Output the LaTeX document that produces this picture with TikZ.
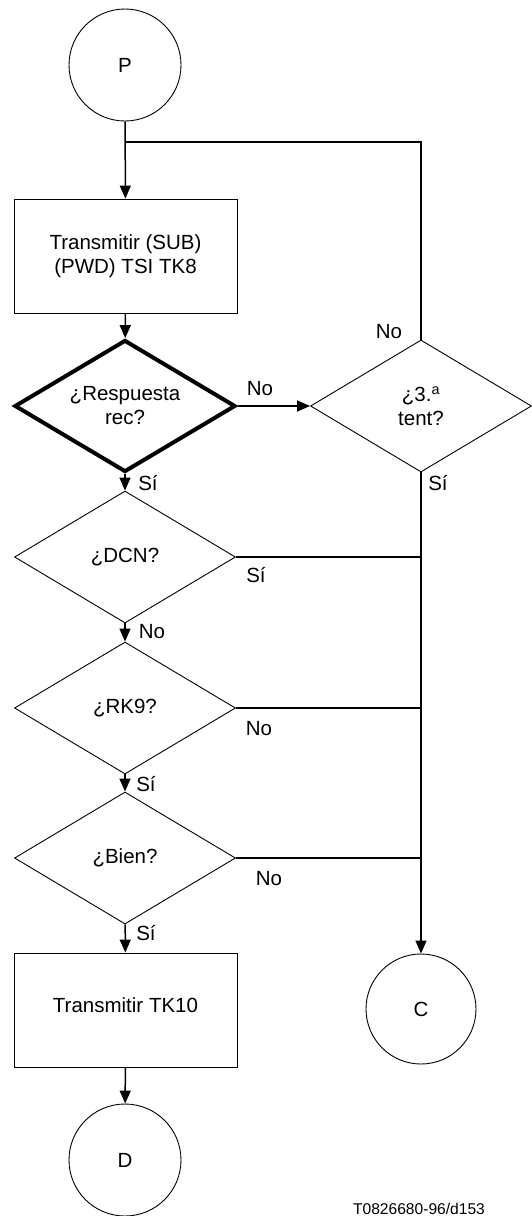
\documentclass[tikz,border=0pt]{standalone}
\usepackage{fontspec}
\setmainfont{Liberation Sans}
\usetikzlibrary{shapes.geometric,arrows.meta}
\tikzset{
  x=1pt,y=-1pt,
  every node/.style={font=\fontsize{20.5}{24}\selectfont},
  term/.style={draw,circle,line width=0.9pt,minimum size=112pt,inner sep=0pt},
  proc/.style={draw,rectangle,line width=0.9pt,minimum width=223pt,minimum height=114pt,inner sep=0pt,align=center},
  dec/.style={draw,diamond,aspect=1.67,line width=0.9pt,minimum width=221pt,minimum height=132pt,inner sep=0pt,align=center},
  boldedge/.style={line width=4pt},
  flow/.style={line width=1.5pt},
  arr/.style={flow,-{Triangle[length=13pt,width=11pt]}},
  lbl/.style={inner sep=0pt}
}
\begin{document}
\begin{tikzpicture}
\useasboundingbox (0,0) rectangle (532,1216);
\node[term] (P) at (125,65) {P};
\coordinate (J) at (125,142);
\node[proc] (box1) at (125.5,256) {Transmitir (SUB)\\(PWD) TSI TK8};
\node[dec,boldedge] (d1) at (125,406) {¿Respuesta\\rec?};
\node[dec] (tent) at (421,406) {¿3.\textsuperscript{a}\\tent?};
\node[dec] (dcn) at (125,557) {¿DCN?};
\node[dec] (rk9) at (125,708) {¿RK9?};
\node[dec] (bien) at (125,858) {¿Bien?};
\node[proc,text height=15pt,text depth=10pt] (box2) at (125.5,1010) {Transmitir TK10};
\node[term] (D) at (125,1160) {D};
\node[term,minimum size=110pt] (C) at (421,1009) {C};

\draw[arr] (P) -- (box1);
\draw[flow] (tent.north) |- (J);
\draw[arr] (box1) -- (d1);
\draw[arr] (d1) -- (tent);
\draw[arr] (d1) -- (dcn);
\draw[arr] (dcn) -- (rk9);
\draw[arr] (rk9) -- (bien);
\draw[arr] (bien) -- (box2);
\draw[arr] (box2) -- (D);
\draw[arr] (tent.south) -- (C.north);
\draw[flow] (dcn.east) -- (dcn.east -| tent.south);
\draw[flow] (rk9.east) -- (rk9.east -| tent.south);
\draw[flow] (bien.east) -- (bien.east -| tent.south);

\node[lbl] (l1) at (260,389) {No};
\node[lbl] (l2) at (389,332) {No};
\node[lbl] (l3) at (438,483) {Sí};
\node[lbl] (l4) at (148,483) {Sí};
\node[lbl] (l5) at (256,575) {Sí};
\node[lbl] (l6) at (152,632) {No};
\node[lbl] (l7) at (259,729) {No};
\node[lbl] (l8) at (146,784) {Sí};
\node[lbl] (l9) at (269,879) {No};
\node[lbl] (l10) at (146,933) {Sí};
\node[lbl,font=\fontsize{15.6}{18}\selectfont] (cap) at (419,1209) {T0826680-96/d153};
\end{tikzpicture}
\end{document}
